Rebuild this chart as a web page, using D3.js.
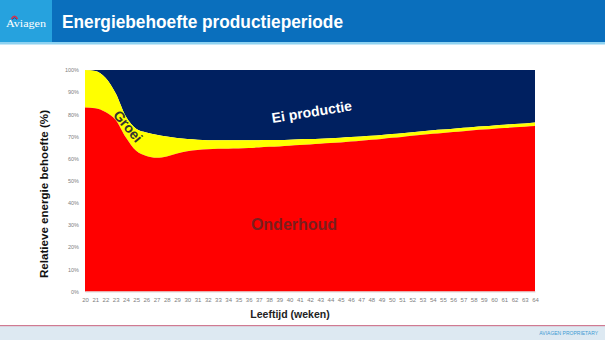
<!DOCTYPE html>
<html>
<head>
<meta charset="utf-8">
<script src="https://cdn.jsdelivr.net/npm/d3@7"></script>
<style>
  body { margin: 0; background: #fff; }
  svg { display: block; font-family: "Liberation Sans", Arial, sans-serif; }
</style>
</head>
<body>
<svg id="chart" width="605" height="340"></svg>
<script>
// ---- Data ----
const weeks = [20,21,22,23,24,25,26,27,28,29,30,31,32,33,34,35,36,37,38,39,40,41,42,43,44,45,46,47,48,49,50,51,52,53,54,55,56,57,58,59,60,61,62,63,64];
const onderhoud = [83.1,82.7,81.0,77.4,69.5,63.5,61.2,60.4,61.0,62.3,63.3,63.9,64.2,64.4,64.5,64.6,64.8,65.0,65.3,65.5,65.8,66.1,66.4,66.7,67.0,67.3,67.7,68.1,68.5,68.9,69.4,69.8,70.3,70.8,71.2,71.6,72.0,72.4,72.8,73.1,73.5,73.8,74.1,74.4,74.7];
const groei = [16.9,16.8,15.5,12.1,9.5,10.0,10.6,10.4,9.0,7.0,5.5,4.6,4.1,3.9,3.8,3.7,3.5,3.3,3.1,2.9,2.7,2.6,2.4,2.3,2.2,2.1,2.0,1.9,1.8,1.8,1.7,1.7,1.6,1.6,1.6,1.5,1.5,1.5,1.5,1.5,1.5,1.5,1.5,1.5,1.6];
const eiProductie = [0,0.5,3.5,10.5,21.0,26.5,28.2,29.2,30.0,30.7,31.2,31.5,31.7,31.7,31.7,31.7,31.7,31.7,31.6,31.6,31.5,31.3,31.2,31.0,30.8,30.6,30.3,30.0,29.7,29.3,28.9,28.5,28.1,27.6,27.2,26.9,26.5,26.1,25.7,25.4,25.0,24.7,24.4,24.1,23.7];
const seriesKeys = ["Onderhoud", "Groei", "Ei productie"];
const yTicks = [0,10,20,30,40,50,60,70,80,90,100];
const titleText = "Energiebehoefte productieperiode";
const xAxisTitle = "Leeftijd (weken)";
const yAxisTitle = "Relatieve energie behoefte  (%)";

// ---- Build table ----
const table = weeks.map((w, i) => ({
  week: w,
  "Onderhoud": onderhoud[i],
  "Groei": groei[i],
  "Ei productie": eiProductie[i]
}));

const svg = d3.select("#chart");

// ---- Header ----
svg.append("rect").attr("x", 0).attr("y", 0).attr("width", 605).attr("height", 43).attr("fill", "#0a6fbd");
svg.append("rect").attr("x", 0).attr("y", 0).attr("width", 52).attr("height", 43).attr("fill", "#26a2de");
svg.append("rect").attr("x", 0).attr("y", 42).attr("width", 605).attr("height", 2.5).attr("fill", "#8ed2f1");
svg.append("text").attr("x", 6).attr("y", 27)
  .attr("font-family", "'Liberation Serif', 'DejaVu Serif', serif")
  .attr("font-size", 11).attr("fill", "#fff")
  .attr("textLength", 40).attr("lengthAdjust", "spacingAndGlyphs")
  .text("Aviagen");
svg.append("path").attr("d", "M11.5,19 Q14.5,13.5 17.5,19").attr("fill", "none").attr("stroke", "#d8324a").attr("stroke-width", 1.6);
svg.append("path").attr("d", "M12.5,19.5 Q14.5,16 16.5,19.5").attr("fill", "none").attr("stroke", "#1f3f8f").attr("stroke-width", 1);
svg.append("text").attr("x", 62).attr("y", 28)
  .attr("font-size", 18.5).attr("font-weight", "bold").attr("fill", "#fff")
  .attr("textLength", 281).attr("lengthAdjust", "spacingAndGlyphs")
  .text(titleText);

// ---- Footer ----
svg.append("rect").attr("x", 0).attr("y", 326).attr("width", 605).attr("height", 14).attr("fill", "#dde9f2");
svg.append("rect").attr("x", 0).attr("y", 325).attr("width", 605).attr("height", 1.2).attr("fill", "#d07a92");
svg.append("text").attr("x", 598).attr("y", 335).attr("text-anchor", "end")
  .attr("font-size", 5).attr("fill", "#3e9bd3")
  .text("AVIAGEN PROPRIETARY");

// ---- Chart ----
const x = d3.scaleLinear().domain([d3.min(weeks), d3.max(weeks)]).range([85, 535]);
const y = d3.scaleLinear().domain([0, 100]).range([291.5, 70]);
const color = d3.scaleOrdinal().domain(seriesKeys).range(["#ff0000", "#ffff00", "#002060"]);

const stack = d3.stack().keys(seriesKeys);
const layers = stack(table);

const area = d3.area()
  .x(d => x(d.data.week))
  .y0(d => y(d[0]))
  .y1(d => y(Math.min(100, d[1])))
  .curve(d3.curveMonotoneX);

svg.append("g").selectAll("path").data(layers.slice().reverse()).join("path")
  .attr("d", area)
  .attr("fill", d => color(d.key));

// Y axis
const yAxis = d3.axisLeft(y).tickValues(yTicks).tickFormat(d => d + "%").tickSize(0).tickPadding(6);
const gy = svg.append("g").attr("transform", "translate(85,0)").call(yAxis);
gy.select(".domain").remove();
gy.selectAll("text").attr("font-size", 5.5).attr("fill", "#808080").attr("font-family", "'Liberation Sans', Arial, sans-serif");

// X axis
const xAxis = d3.axisBottom(x).tickValues(weeks).tickFormat(d3.format("d")).tickSize(0).tickPadding(6);
const gx = svg.append("g").attr("transform", "translate(0,291.5)").call(xAxis);
gx.select(".domain").attr("stroke", "#d9d9d9");
gx.selectAll("text").attr("font-size", 6).attr("fill", "#808080").attr("font-family", "'Liberation Sans', Arial, sans-serif");

// Axis titles
svg.append("text").attr("x", 290).attr("y", 318).attr("text-anchor", "middle")
  .attr("font-size", 10.5).attr("font-weight", "bold").attr("fill", "#222")
  .text(xAxisTitle);
svg.append("text").attr("transform", "translate(48,194) rotate(-90)").attr("text-anchor", "middle")
  .attr("font-size", 10).attr("font-weight", "bold").attr("fill", "#111")
  .attr("textLength", 168).attr("lengthAdjust", "spacingAndGlyphs")
  .text(yAxisTitle);

// Series labels
svg.append("text").attr("transform", "translate(127,127) rotate(50)").attr("text-anchor", "middle")
  .attr("dominant-baseline", "middle")
  .attr("font-size", 14).attr("font-weight", "bold").attr("fill", "#333")
  .text("Groei");
svg.append("text").attr("transform", "translate(312,113) rotate(-9)").attr("text-anchor", "middle")
  .attr("dominant-baseline", "middle")
  .attr("font-size", 14).attr("font-weight", "bold").attr("fill", "#fff")
  .text("Ei productie");
svg.append("text").attr("x", 294).attr("y", 226).attr("text-anchor", "middle")
  .attr("dominant-baseline", "middle")
  .attr("font-size", 16).attr("font-weight", "bold").attr("fill", "#7b1e1e")
  .text("Onderhoud");
</script>
</body>
</html>
